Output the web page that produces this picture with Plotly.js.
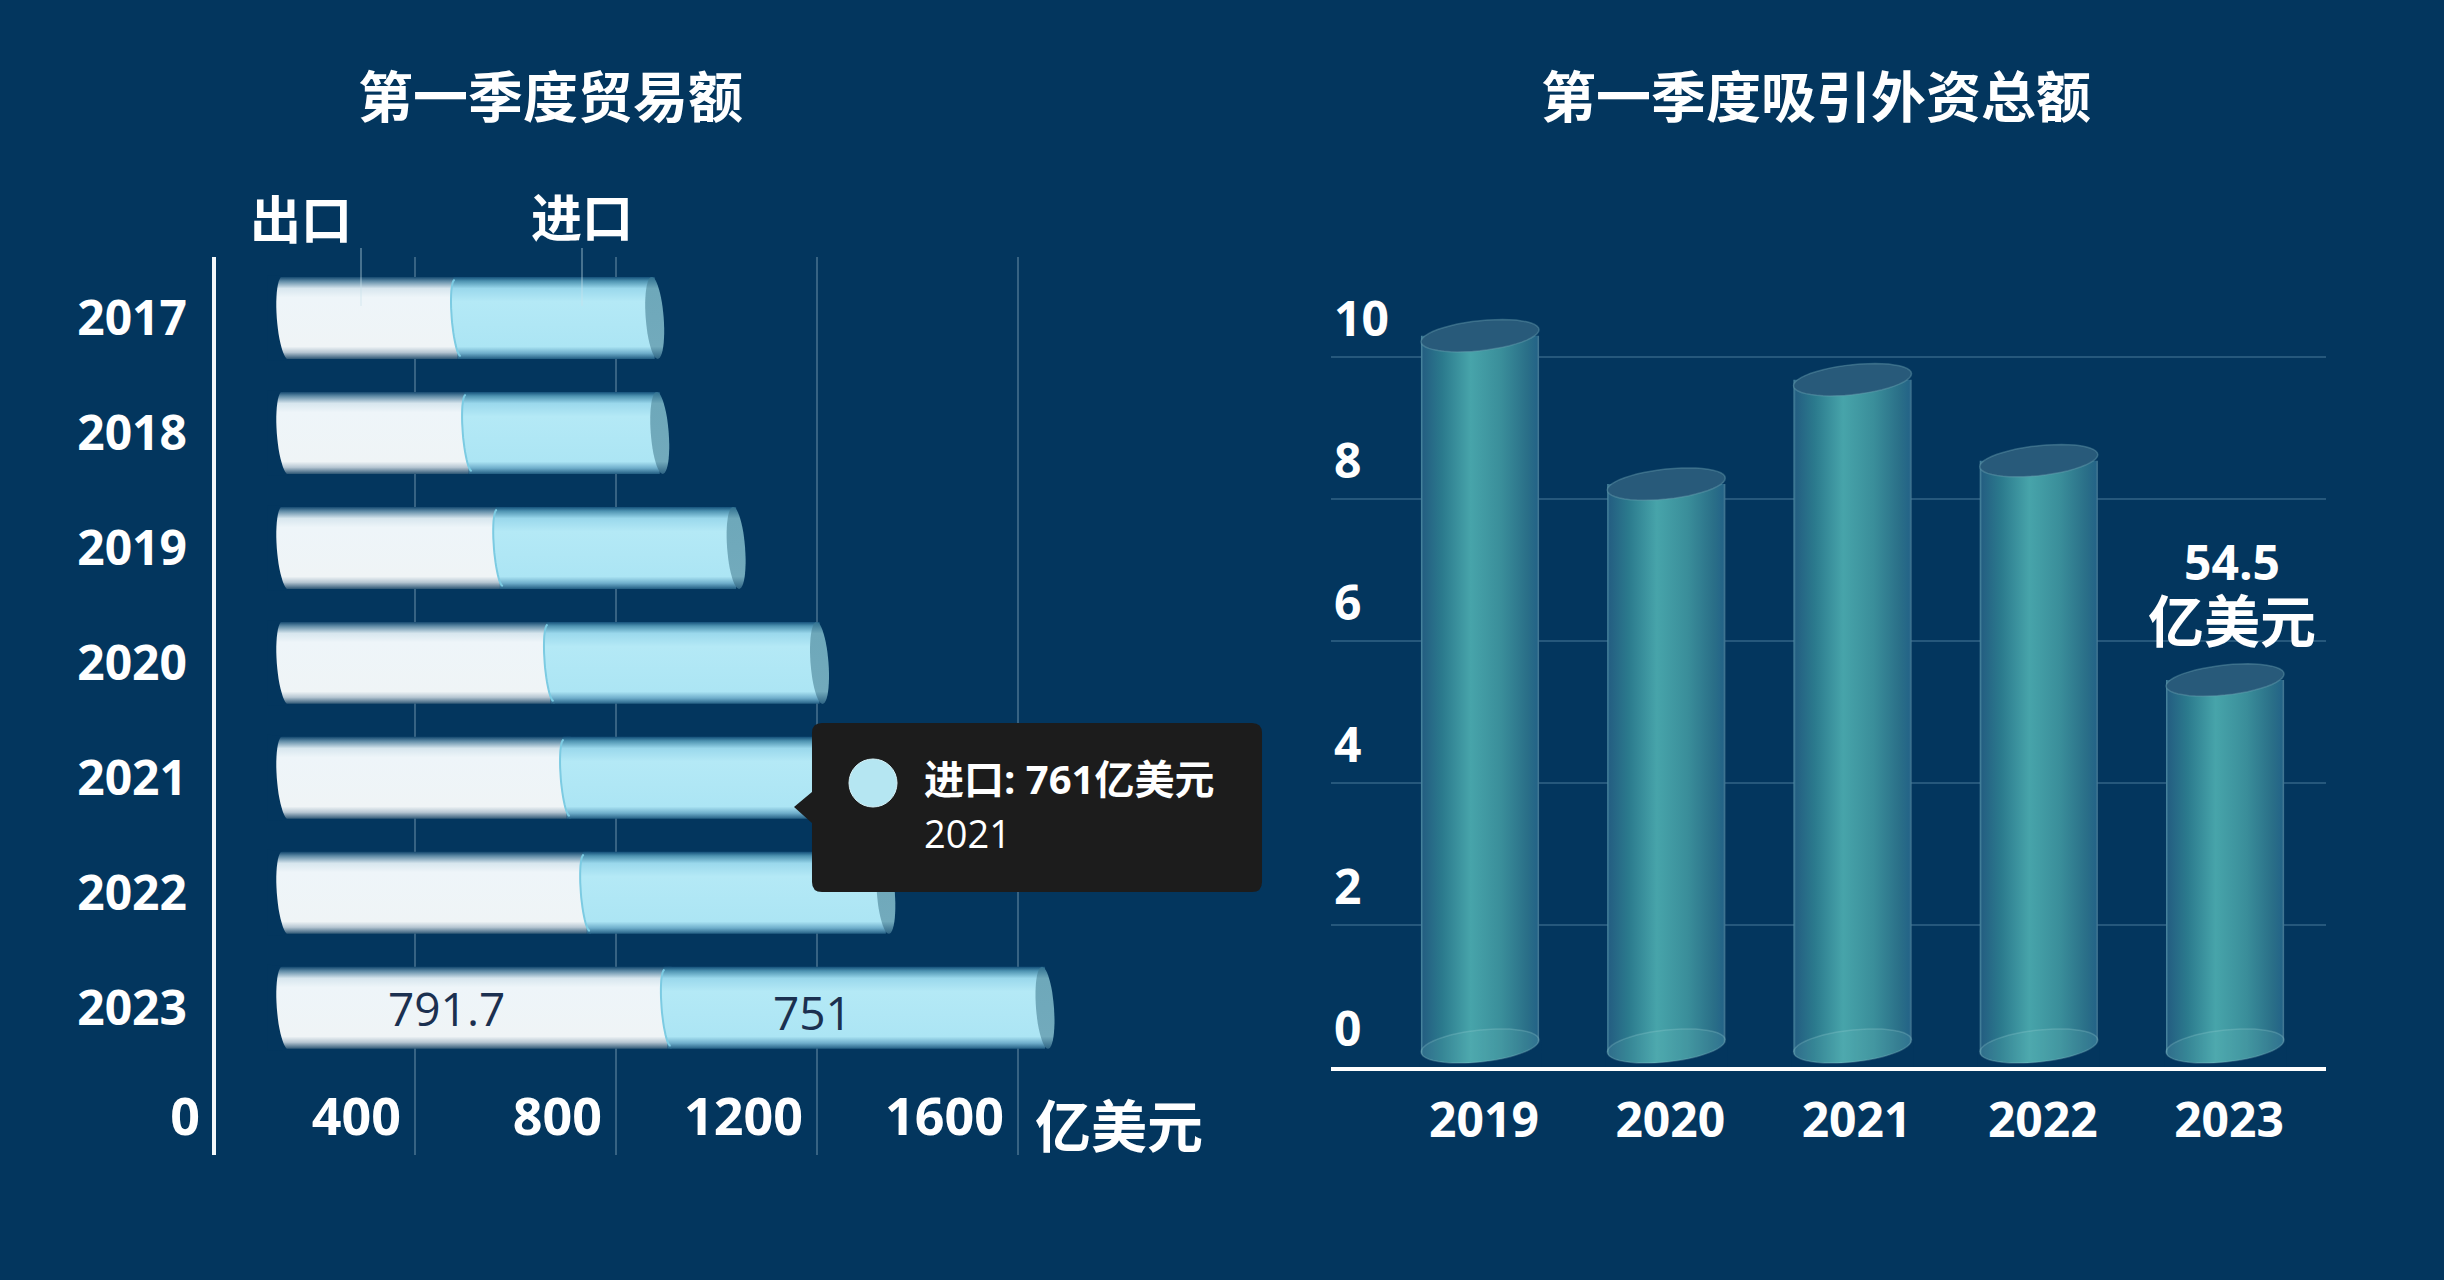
<!DOCTYPE html>
<html><head><meta charset="utf-8">
<script src="https://cdn.plot.ly/plotly-3.0.1.min.js"></script>
<style>html,body{margin:0;padding:0;background:#03365E}</style></head>
<body><div id="chart" style="width:2444px;height:1280px"></div>
<script>
const tradeYears = ['2017','2018','2019','2020','2021','2022','2023'];
const exportValues = [374,396,458,559,591,631,791.7];
const importValues = [392,380,470,535,761,595,751];
const tradeTicks = [0,400,800,1200,1600];
const fdiYears = ['2019','2020','2021','2022','2023'];
const fdiValues = [10.3,8.21,9.68,8.54,5.45];
const fdiTicks = [0,2,4,6,8,10];
const tooltipYear = '2021';

const W=2444,H=1280, BG='#03365E';
const FONT='"Open Sans","Noto Sans CJK SC",sans-serif';
const px=x=>x/W, py=y=>1-y/H;
const barBase=111;               // the bars start right of the zero line
const baseOf=i=>barBase+exportValues[i];

// sheared ellipse points, pixel offsets, y up
function ell(cx,cy,a,b,sx,sy,t0,t1,n){
  const p=[];
  for(let k=0;k<=n;k++){const t=(t0+(t1-t0)*k/n)*Math.PI/180;
    p.push([cx+a*Math.cos(t)+sx*Math.sin(t), cy+b*Math.sin(t)+sy*Math.cos(t)]);}
  return p;
}
const toPath=(p,close)=>'M'+p.map(q=>q[0].toFixed(1)+','+q[1].toFixed(1)).join(' L')+(close?' Z':'');

const CAP_SENTINEL='rgb(114, 169, 188)', BULGE_SENTINEL='rgb(176, 230, 244)';
const shapes=[];
const hPath=(xv,yi,path,fill,line,lw)=>shapes.push({type:'path',layer:'above',xref:'x',yref:'y',xsizemode:'pixel',ysizemode:'pixel',
  xanchor:xv,yanchor:yi,path,fillcolor:fill||'rgba(0,0,0,0)',line:{color:line||'rgba(0,0,0,0)',width:lw||0}});
tradeYears.forEach((yr,i)=>{
  // rounded start: background mask to the left of the first arc
  const left=ell(16,0,9,42,-3,0,90,270,24);
  hPath(barBase,i,toPath([[-2,43],...left,[-2,-43]],true),BG);
  // the second series bulges into the first along a curved divider
  const arc=ell(0,0,6,41,-3,0,90,270,24);
  hPath(baseOf(i),i,toPath([[4,41],...arc,[4,-41]],true),BULGE_SENTINEL);
  hPath(baseOf(i),i,toPath(ell(0,0,6,38,-3,0,90,270,24),false),null,'#7CCBE2',2);
  // far end cap
  hPath(baseOf(i)+importValues[i],i,toPath(ell(0,0,9,41,-3,0,0,360,48),true),CAP_SENTINEL);
});
const vPath=(xi,yv,path,fill,line,lw)=>shapes.push({type:'path',layer:'above',xref:'x2',yref:'y2',xsizemode:'pixel',ysizemode:'pixel',
  xanchor:xi,yanchor:yv,path,fillcolor:fill||'rgba(0,0,0,0)',line:{color:line||'rgba(0,0,0,0)',width:lw||0}});
fdiYears.forEach((yr,i)=>{
  const low=ell(0,21,59,16,0,6,180,360,32);
  vPath(i,0,toPath([...low,[61,27],[61,0],[-61,0],[-61,15]],true),BG);
  vPath(i,0,toPath(ell(0,21,59,16,0,6,0,360,48),true),'rgba(110,195,195,0.17)','rgba(160,210,215,0.25)',1.5);
  vPath(i,fdiValues[i],toPath(ell(0,0,59,15,0,6,0,360,48),true),'#285A7A','rgba(110,165,180,0.40)',1.5);
});
// leader lines under the legend labels
[361,582].forEach(x=>shapes.push({type:'line',layer:'above',xref:'paper',yref:'paper',x0:px(x),x1:px(x),y0:py(248),y1:py(306),line:{color:'rgba(200,225,235,0.35)',width:2}}));
// pinned tooltip
const X=v=>px(v).toFixed(5), Y=v=>py(v).toFixed(5);
shapes.push({type:'path',layer:'above',xref:'paper',yref:'paper',
  path:`M${X(822)},${Y(723)} L${X(1252)},${Y(723)} Q${X(1262)},${Y(723)} ${X(1262)},${Y(733)} L${X(1262)},${Y(882)} Q${X(1262)},${Y(892)} ${X(1252)},${Y(892)} L${X(822)},${Y(892)} Q${X(812)},${Y(892)} ${X(812)},${Y(882)} L${X(812)},${Y(823)} L${X(794)},${Y(807)} L${X(812)},${Y(792)} L${X(812)},${Y(733)} Q${X(812)},${Y(723)} ${X(822)},${Y(723)} Z`,
  fillcolor:'#1C1C1C',line:{width:0}});
shapes.push({type:'circle',layer:'above',xref:'paper',yref:'paper',x0:px(849),x1:px(897),y0:py(807),y1:py(759),fillcolor:'#B5E6F2',line:{color:'#D5F2F8',width:1}});

const note=(x,y,text,size,opt={})=>Object.assign({xref:'paper',yref:'paper',x:px(x),y:py(y),text,showarrow:false,xanchor:'center',yanchor:'middle',
  font:{family:FONT,size,color:'#FFFFFF',weight:700}},opt);
const iTip=tradeYears.indexOf(tooltipYear), last=tradeYears.length-1, lastF=fdiYears.length-1;
const annotations=[
  note(550,96,'第一季度贸易额',55),
  note(1816,96,'第一季度吸引外资总额',55),
  note(301,219,'出口',51),
  note(582,217,'进口',51),
  note(1119,1125,'亿美元',56),
  note(2232,593,String(fdiValues[lastF]*10)+'<br><span style="font-size:56px">亿美元</span>',48),
  {xref:'x',yref:'y',x:barBase+exportValues[last]/2,y:last,xshift:-22,showarrow:false,text:String(exportValues[last]),font:{family:FONT,size:46,color:'#1B3050',weight:500}},
  {xref:'x',yref:'y',x:baseOf(last)+importValues[last]/2,y:last,xshift:-44,yshift:-4,showarrow:false,text:String(importValues[last]),font:{family:FONT,size:46,color:'#1B3050',weight:500}},
  note(922,778,'进口: '+importValues[iTip]+'亿美元',40,{xanchor:'left'}),
  note(922,833,tooltipYear,38,{xanchor:'left',font:{family:FONT,size:38,color:'#FFFFFF',weight:400}})
];

const data=[
 {type:'bar',orientation:'h',name:'出口',y:tradeYears,x:exportValues,base:tradeYears.map(()=>barBase),width:0.713,xaxis:'x',yaxis:'y',marker:{color:'#EEF5F8',line:{width:0}},hoverinfo:'skip'},
 {type:'bar',orientation:'h',name:'进口',y:tradeYears,x:importValues,base:tradeYears.map((_,i)=>baseOf(i)),width:0.713,xaxis:'x',yaxis:'y',marker:{color:'#B0E6F4',line:{width:0}},hoverinfo:'skip'},
 {type:'bar',name:'吸引外资',x:fdiYears,y:fdiValues,width:0.634,xaxis:'x2',yaxis:'y2',marker:{color:'#3F9EA8',line:{width:0}},hoverinfo:'skip'}
];
const tickFont={family:FONT,size:48,color:'#FFFFFF',weight:700};
const layout={
 width:W,height:H,margin:{l:0,r:0,t:0,b:0},paper_bgcolor:BG,plot_bgcolor:'rgba(0,0,0,0)',showlegend:false,barmode:'overlay',
 xaxis:{domain:[0,px(1100)],range:[-214/0.5025,(1100-214)/0.5025],tickmode:'array',tickvals:tradeTicks,ticktext:tradeTicks.map(String),
   ticklabelposition:'inside left',ticklabelstandoff:4,ticklabelshift:-14,tickfont:Object.assign({},tickFont,{size:52}),showgrid:true,gridcolor:'rgba(190,215,230,0.28)',gridwidth:2,
   zeroline:true,zerolinecolor:'#F2F7FA',zerolinewidth:4,ticks:'',showline:false,anchor:'y'},
 yaxis:{domain:[py(1155),py(257)],type:'category',categoryorder:'array',categoryarray:tradeYears,range:[7.28,-0.53],anchor:'free',position:px(187),
   tickfont:tickFont,showgrid:false,zeroline:false,showline:false,ticks:''},
 xaxis2:{domain:[px(1331),px(2326)],type:'category',categoryorder:'array',categoryarray:fdiYears,range:[-0.8,4.542],anchor:'y2',
   tickfont:tickFont,showgrid:false,zeroline:false,showline:true,linecolor:'#FFFFFF',linewidth:4,ticks:'',ticklabelshift:4,ticklabelstandoff:8},
 yaxis2:{domain:[py(1067),py(250.5)],range:[0,11.5],anchor:'x2',tickmode:'array',tickvals:fdiTicks,ticktext:fdiTicks.map(String),
   ticklabelposition:'inside',ticklabelshift:-38,tickfont:tickFont,showgrid:true,gridcolor:'rgba(120,170,195,0.30)',gridwidth:2,zeroline:false,showline:false,ticks:''},
 shapes,annotations
};
Plotly.newPlot('chart',data,layout,{displayModeBar:false,staticPlot:true}).then(gd=>{
  const NS='http://www.w3.org/2000/svg', svg=gd.querySelector('.main-svg'), defs=svg.querySelector('defs');
  const grad=(id,vertical,stops)=>{
    const g=document.createElementNS(NS,'linearGradient');g.setAttribute('id',id);
    g.setAttribute('x1','0');g.setAttribute('y1','0');g.setAttribute('x2',vertical?'0':'1');g.setAttribute('y2',vertical?'1':'0');
    stops.forEach(s=>{const e=document.createElementNS(NS,'stop');e.setAttribute('offset',s[0]);e.setAttribute('stop-color',s[1]);g.appendChild(e);});
    defs.appendChild(g);
  };
  grad('gExport',true,[[0,'#14486F'],[0.05,'#5E8AA5'],[0.14,'#D7E6EE'],[0.25,'#EEF5F9'],[0.85,'#EFF4F6'],[0.92,'#B6C6D2'],[1,'#2F5876']]);
  grad('gImport',true,[[0,'#14507A'],[0.05,'#4E93B1'],[0.14,'#9AD8EC'],[0.3,'#B4E9F6'],[0.85,'#ACE5F4'],[0.93,'#6FAECB'],[1,'#235E83']]);
  grad('gCol',false,[[0,'#4F8BA2'],[0.02,'#245F82'],[0.18,'#2B7A8D'],[0.42,'#47A4AA'],[0.68,'#3A8E9A'],[0.9,'#2A6F88'],[0.98,'#246487'],[1,'#4A7C96']]);
  grad('gCap',true,[[0,'#2E6E8E'],[0.14,'#6EA8BA'],[0.85,'#72AABC'],[1,'#2E6484']]);
  const paint=(sel,id)=>gd.querySelectorAll(sel).forEach(p=>p.style.setProperty('fill','url(#'+id+')'));
  const left=gd.querySelectorAll('.xy .barlayer .trace');
  left[0].querySelectorAll('path').forEach(p=>p.style.setProperty('fill','url(#gExport)'));
  left[1].querySelectorAll('path').forEach(p=>p.style.setProperty('fill','url(#gImport)'));
  paint('.x2y2 .barlayer .trace path','gCol');
  gd.querySelectorAll('.shapelayer path').forEach(p=>{
    if(p.style.fill===CAP_SENTINEL)p.style.setProperty('fill','url(#gCap)');
    else if(p.style.fill===BULGE_SENTINEL)p.style.setProperty('fill','url(#gImport)');
  });
});
</script></body></html>
